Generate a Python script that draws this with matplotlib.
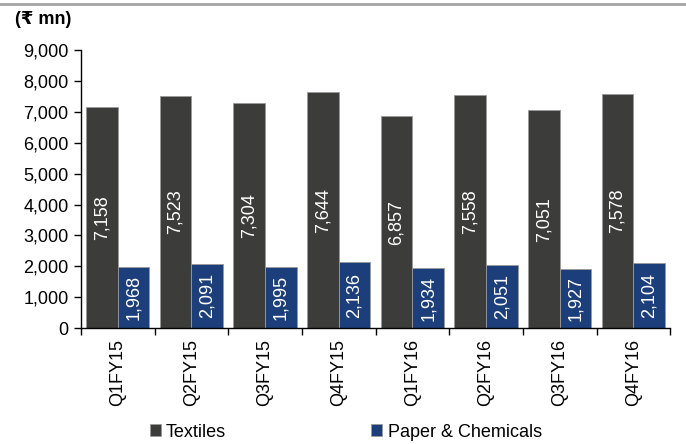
import numpy as np
import matplotlib
matplotlib.use("Agg")
import matplotlib.pyplot as plt
from matplotlib.lines import Line2D
from matplotlib.ticker import FuncFormatter

plt.rcParams['font.family'] = ['Liberation Sans', 'DejaVu Sans']

quarters = ['Q1FY15', 'Q2FY15', 'Q3FY15', 'Q4FY15',
            'Q1FY16', 'Q2FY16', 'Q3FY16', 'Q4FY16']
textiles = [7158, 7523, 7304, 7644, 6857, 7558, 7051, 7578]
paper_chem = [1968, 2091, 1995, 2136, 1934, 2051, 1927, 2104]

dark = '#3c3c3a'
blue = '#1c3f7c'

fig = plt.figure(figsize=(6.86, 4.44), dpi=100)
ax = fig.add_axes([0.118, 0.261, 0.859, 0.626])

x = np.arange(len(quarters))
w = 0.43
b1 = ax.bar(x - w / 2, textiles, w, color=dark, edgecolor='#9a9a9a',
            linewidth=0.6, label='Textiles')
b2 = ax.bar(x + w / 2, paper_chem, w, color=blue, edgecolor='#9a9a9a',
            linewidth=0.6, label='Paper & Chemicals')

# value labels, rotated, in the middle of each bar
for bars, vals in ((b1, textiles), (b2, paper_chem)):
    for r, v in zip(bars, vals):
        ax.text(r.get_x() + r.get_width() / 2, v / 2, f'{v:,}',
                rotation=90, ha='center', va='center',
                color='white', fontsize=13)

ax.set_ylim(0, 9000)
ax.set_yticks(range(0, 9001, 1000))
ax.yaxis.set_major_formatter(FuncFormatter(lambda v, p: f'{int(v):,}'))
ax.set_xlim(-0.5, len(quarters) - 0.5)
ax.set_xticks(np.arange(len(quarters) + 1) - 0.5)
ax.set_xticklabels([])
ax.set_xticks(x, minor=True)
ax.set_xticklabels(quarters, minor=True, rotation=90, fontsize=13)
ax.tick_params(axis='x', which='minor', length=0, pad=8)
ax.tick_params(axis='x', which='major', length=5, width=1, direction='out')
ax.tick_params(axis='y', length=5, width=1, direction='out', labelsize=13, pad=4)

for s in ('top', 'right'):
    ax.spines[s].set_visible(False)
for s in ('left', 'bottom'):
    ax.spines[s].set_linewidth(1)
    ax.spines[s].set_color('black')

fig.text(0.022, 0.955, '(₹ mn)', fontsize=13, fontweight='bold',
         ha='left', va='center')

fig.add_artist(Line2D([0, 1], [0.991, 0.991], transform=fig.transFigure,
                      color='#a3a3a3', linewidth=2))

fig.legend(handles=[b1, b2], loc='center', bbox_to_anchor=(0.504, 0.027),
           ncol=2, frameon=False, fontsize=13, handlelength=0.6,
           handleheight=0.6, handletextpad=0.3, columnspacing=8.05)

fig.savefig('out.png', dpi=100)
